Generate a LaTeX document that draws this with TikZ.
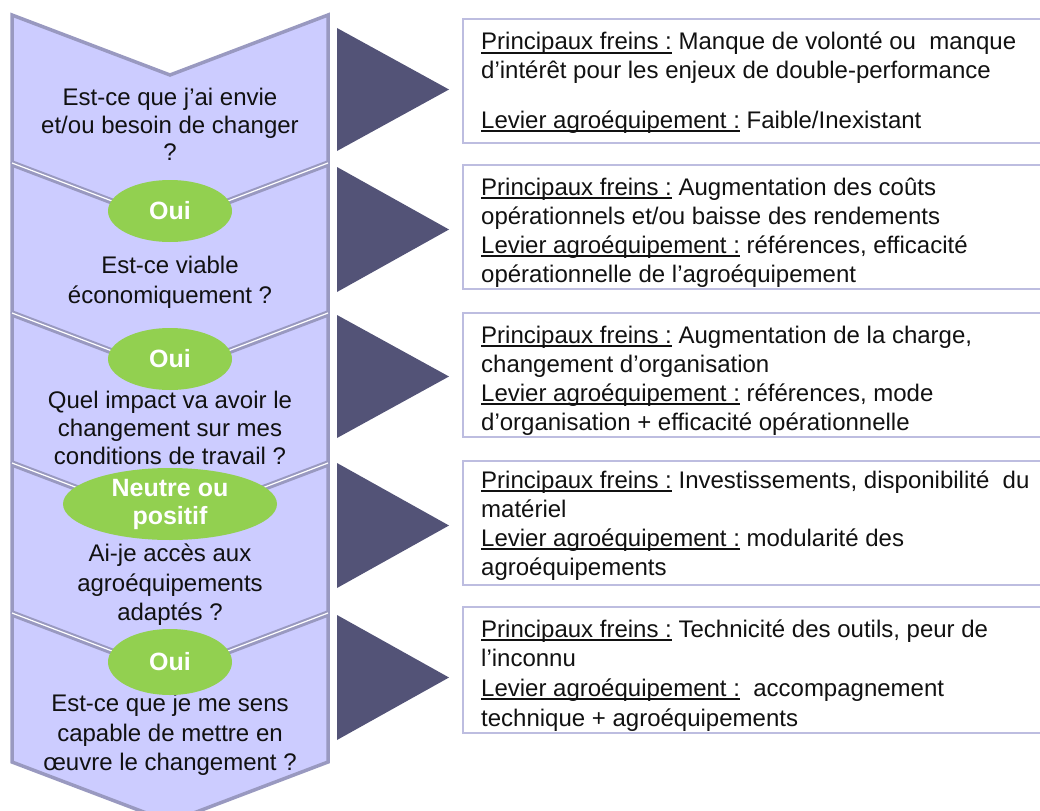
\documentclass[tikz,border=0pt]{standalone}
\usepackage{fontspec}
\setmainfont{Liberation Sans}
\usetikzlibrary{shapes.geometric}
\definecolor{chevfill}{HTML}{CCCCFF}
\definecolor{chevline}{HTML}{9999C0}
\definecolor{tri}{HTML}{535377}
\definecolor{boxline}{HTML}{BDBDE0}
\definecolor{oui}{HTML}{92D050}
\definecolor{txt}{HTML}{111111}
\newcommand\uln[1]{\setbox0\hbox{#1}\rlap{\rule[-4bp]{\wd0}{1.8bp}}\box0\relax}
\begin{document}
\begin{tikzpicture}[x=1bp,y=-1bp,
 chev/.style={fill=chevfill,draw=chevline,line width=3.5bp,line join=miter},
 gapline/.style={draw=white,line width=1.2bp},
 arrowtri/.style={fill=tri},
 infobox/.style={draw=boxline,line width=1.2bp},
 ask/.style={font=\fontsize{24bp}{29bp}\selectfont,text=txt,inner sep=0pt,anchor=base},
 info/.style={font=\fontsize{24bp}{28bp}\selectfont,text=txt,inner sep=0pt,anchor=base west},
 answer/.style={ellipse,fill=oui,text=white,font=\bfseries\fontsize{25bp}{28bp}\selectfont,inner sep=0pt,align=center}]
\useasboundingbox (0,0) rectangle (1040,811);
\begin{scope}
\clip (0,0) rectangle (1040,811);
\foreach \t [count=\i] in {15,165,315,465,615} {
  \draw[chev] (12,\t) -- (170,\t+60) -- (328,\t) -- (328,\t+147) -- (170,\t+207) -- (12,\t+147) -- cycle;
  \ifnum\i>1 \draw[gapline] (12,\t-2) -- (170,\t+58) -- (328,\t-2); \fi
}
% triangles
\fill[arrowtri] (337,28) -- (449,89.5) -- (337,151) -- cycle;
\fill[arrowtri] (337,167) -- (449,229.5) -- (337,292) -- cycle;
\fill[arrowtri] (337,315) -- (449,376.5) -- (337,438) -- cycle;
\fill[arrowtri] (337,463) -- (449,525.5) -- (337,588) -- cycle;
\fill[arrowtri] (337,615) -- (449,677.5) -- (337,740) -- cycle;
% boxes
\draw[infobox] (463,19) rectangle (1046,143);
\draw[infobox] (463,165) rectangle (1046,289);
\draw[infobox] (463,313) rectangle (1046,437);
\draw[infobox] (463,461) rectangle (1046,585);
\draw[infobox] (463,607) rectangle (1046,733);
\end{scope}
% left questions
\node (q1a) [ask] at (170,105) {Est-ce que j’ai envie};
\node (q1b) [ask] at (170,133) {et/ou besoin  de changer};
\node (q1c) [ask] at (170,160) {?};
\node (q2a) [ask] at (170,273) {Est-ce viable};
\node (q2b) [ask] at (170,303) {économiquement ?};
\node (q3a) [ask] at (170,408) {Quel impact va avoir le};
\node (q3b) [ask] at (170,436) {changement sur mes};
\node (q3c) [ask] at (170,464) {conditions de travail ?};
\node (q4a) [ask] at (170,561) {Ai-je accès aux};
\node (q4b) [ask] at (170,591) {agroéquipements};
\node (q4c) [ask] at (170,620) {adaptés ?};
\node (q5a) [ask] at (170,711) {Est-ce que je me sens};
\node (q5b) [ask] at (170,741) {capable de mettre en};
\node (q5c) [ask] at (170,770) {œuvre le changement ?};
% answers
\node (a1) [answer,minimum width=124bp,minimum height=62bp] at (170,211) {Oui};
\node (a2) [answer,minimum width=124bp,minimum height=62bp] at (170,359) {Oui};
\node (a3) [answer,minimum width=214bp,minimum height=72bp] at (170,504) {Neutre ou\\positif};
\node (a4) [answer,minimum width=124bp,minimum height=66bp] at (170,662) {Oui};
% info texts
\node (i1a) [info] at (481,50) {\uln{Principaux freins :} Manque de volonté ou \ manque};
\node (i1b) [info] at (481,79) {d’intérêt pour les enjeux de double-performance};
\node (i1c) [info] at (481,128) {\uln{Levier agroéquipement :} Faible/Inexistant};
\node (i2a) [info] at (481,195) {\uln{Principaux freins :} Augmentation des coûts};
\node (i2b) [info] at (481,224) {opérationnels et/ou baisse des rendements};
\node (i2c) [info] at (481,253) {\uln{Levier agroéquipement :} références, efficacité};
\node (i2d) [info] at (481,282) {opérationnelle de l’agroéquipement};
\node (i3a) [info] at (481,343) {\uln{Principaux freins :} Augmentation de la charge,};
\node (i3b) [info] at (481,372) {changement d’organisation};
\node (i3c) [info] at (481,401) {\uln{Levier agroéquipement :} références, mode};
\node (i3d) [info] at (481,430) {d’organisation + efficacité opérationnelle};
\node (i4a) [info] at (481,488) {\uln{Principaux freins :} Investissements, disponibilité \ du};
\node (i4b) [info] at (481,517) {matériel};
\node (i4c) [info] at (481,546) {\uln{Levier agroéquipement :} modularité des};
\node (i4d) [info] at (481,575) {agroéquipements};
\node (i5a) [info] at (481,637) {\uln{Principaux freins :} Technicité des outils, peur de};
\node (i5b) [info] at (481,666) {l’inconnu};
\node (i5c) [info] at (481,696) {\uln{Levier agroéquipement :} \ accompagnement};
\node (i5d) [info] at (481,726) {technique + agroéquipements};
\end{tikzpicture}
\end{document}
